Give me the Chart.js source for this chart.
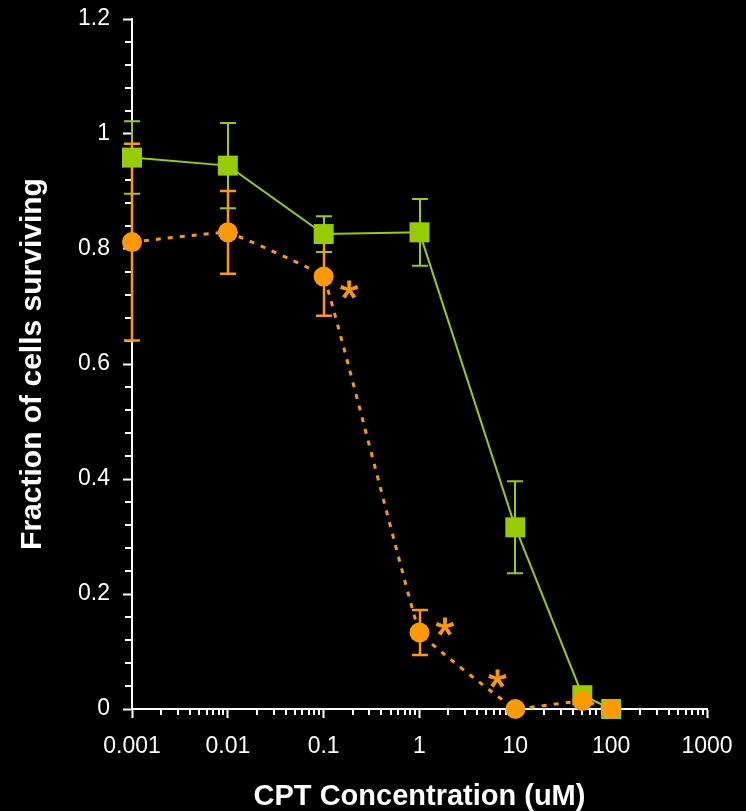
<!DOCTYPE html>
<html>
<head>
<meta charset="utf-8">
<title>CPT survival</title>
<style>
  html, body { margin: 0; padding: 0; background: #000; }
  #wrap { width: 746px; height: 811px; }
</style>
<script src="https://cdn.jsdelivr.net/npm/chart.js@4/dist/chart.umd.min.js"></script>
</head>
<body>
<div id="wrap"><canvas id="chart" width="746" height="811"></canvas></div>
<script>
// CPT concentrations (uM)
const concentrations = [0.001, 0.01, 0.1, 1, 10, 50, 100];

// Fraction of cells surviving, control line (green squares)
const controlSurvival = [0.959, 0.945, 0.826, 0.829, 0.316, 0.024, 0.0];
const controlError    = [0.063, 0.074, 0.031, 0.058, 0.080, 0, 0];

// Fraction of cells surviving, sensitised line (orange circles)
const treatedSurvival = [0.812, 0.829, 0.752, 0.133, 0.0, 0.014, 0.0];
const treatedError    = [0.171, 0.072, 0.068, 0.039, 0, 0, 0];

// Significance markers
const starX = [0.185, 1.85, 6.5];
const starY = [0.729, 0.143, 0.053];

// Axis labels
const xTickLabels = ['0.001', '0.01', '0.1', '1', '10', '100', '1000'];
const yTickLabels = ['0', '0.2', '0.4', '0.6', '0.8', '1', '1.2'];
const xDecades = [-3, -2, -1, 0, 1, 2, 3];
const minorMultipliers = [2, 3, 4, 5, 6, 7, 8, 9];

const GREEN = '#99CC00';
const ORANGE = '#FF9900';
const FONT = "'Liberation Sans', Arial, Helvetica, sans-serif";

const toPoints = (xs, ys) => xs.map((x, i) => ({ x: x, y: ys[i] }));

function isDecade(v) {
  const l = Math.log10(v);
  return Math.abs(l - Math.round(l)) < 1e-9;
}

function drawErrorBars(ctx, xs, ys, xVals, yVals, errs, color, width) {
  ctx.save();
  ctx.strokeStyle = color;
  ctx.lineWidth = width;
  xVals.forEach((xv, i) => {
    const e = errs[i];
    if (!e) return;
    const px = Math.round(xs.getPixelForValue(xv));
    const top = ys.getPixelForValue(yVals[i] + e);
    const bot = ys.getPixelForValue(yVals[i] - e);
    ctx.beginPath();
    ctx.moveTo(px, top); ctx.lineTo(px, bot);
    ctx.moveTo(px - 8, top); ctx.lineTo(px + 8, top);
    ctx.moveTo(px - 8, bot); ctx.lineTo(px + 8, bot);
    ctx.stroke();
  });
  ctx.restore();
}

const decorations = {
  id: 'decorations',
  beforeDraw(chart) {
    const ctx = chart.ctx;
    ctx.save();
    ctx.fillStyle = '#000';
    ctx.fillRect(0, 0, chart.width, chart.height);
    ctx.restore();
  },
  beforeDatasetsDraw(chart) {
    const { ctx, scales: { x, y } } = chart;
    // minor tick marks
    ctx.save();
    ctx.strokeStyle = '#fff';
    ctx.lineWidth = 2;
    ctx.beginPath();
    x.ticks.forEach(t => {
      if (isDecade(t.value)) return;
      const px = Math.round(x.getPixelForValue(t.value));
      ctx.moveTo(px, y.bottom); ctx.lineTo(px, y.bottom + 6);
    });
    y.ticks.forEach((t, i) => {
      if (i % 5 === 0) return;
      const py = Math.round(y.getPixelForValue(t.value));
      ctx.moveTo(x.left - 7, py); ctx.lineTo(x.left, py);
    });
    ctx.stroke();
    ctx.restore();
    // error bars
    drawErrorBars(ctx, x, y, concentrations, controlSurvival, controlError, GREEN, 2);
    drawErrorBars(ctx, x, y, concentrations, treatedSurvival, treatedError, ORANGE, 2.5);
  },
  afterDatasetsDraw(chart) {
    const { ctx, scales: { x, y } } = chart;
    ctx.save();
    ctx.font = '100px ' + FONT;
    let m = ctx.measureText('*');
    const size = 100 * 18 / (m.actualBoundingBoxLeft + m.actualBoundingBoxRight);
    ctx.font = size.toFixed(1) + 'px ' + FONT;
    m = ctx.measureText('*');
    ctx.fillStyle = ORANGE;
    ctx.strokeStyle = ORANGE;
    ctx.lineWidth = 0.8;
    ctx.textBaseline = 'alphabetic';
    ctx.textAlign = 'left';
    starX.forEach((sx, i) => {
      const cx = x.getPixelForValue(sx);
      const cy = y.getPixelForValue(starY[i]);
      const bx = cx - (m.actualBoundingBoxRight - m.actualBoundingBoxLeft) / 2;
      const by = cy - (m.actualBoundingBoxDescent - m.actualBoundingBoxAscent) / 2;
      ctx.fillText('*', bx, by);
      ctx.strokeText('*', bx, by);
    });
    ctx.restore();
  }
};

new Chart(document.getElementById('chart'), {
  type: 'line',
  data: {
    datasets: [
      {
        label: 'Sensitised',
        data: toPoints(concentrations, treatedSurvival),
        borderColor: ORANGE,
        borderWidth: 3,
        borderDash: [5, 7],
        tension: 0.05,
        pointStyle: 'circle',
        pointRadius: 10,
        pointHoverRadius: 10,
        pointBackgroundColor: ORANGE,
        pointBorderColor: ORANGE,
        pointBorderWidth: 0,
        clip: false,
        order: 0
      },
      {
        label: 'Control',
        data: toPoints(concentrations, controlSurvival),
        borderColor: GREEN,
        borderWidth: 2,
        tension: 0,
        pointStyle: 'rect',
        pointRadius: 14.14,
        pointHoverRadius: 14.14,
        pointBackgroundColor: GREEN,
        pointBorderColor: GREEN,
        pointBorderWidth: 0,
        clip: false,
        order: 1
      }
    ]
  },
  options: {
    responsive: false,
    animation: false,
    devicePixelRatio: 1,
    events: [],
    layout: { padding: { top: 19, right: 39, bottom: 0, left: 0 } },
    plugins: { legend: { display: false }, tooltip: { enabled: false } },
    scales: {
      x: {
        type: 'logarithmic',
        min: 0.001,
        max: 1000,
        afterFit(scale) {
          scale.height = 102;
          scale.paddingLeft = 0;
          scale.paddingRight = 0;
        },
        afterBuildTicks(scale) {
          const ticks = [];
          xDecades.forEach((d, i) => {
            const base = Number(xTickLabels[i]);
            ticks.push({ value: base, major: true });
            if (i < xDecades.length - 1) {
              minorMultipliers.forEach(k => ticks.push({ value: Number((k * base).toPrecision(6)), major: false }));
            }
          });
          scale.ticks = ticks;
        },
        grid: {
          display: true,
          drawOnChartArea: false,
          drawTicks: true,
          tickLength: 9,
          tickWidth: 2,
          tickColor: ctx => (ctx.tick && isDecade(ctx.tick.value)) ? '#fff' : 'rgba(0,0,0,0)'
        },
        border: { display: true, color: '#fff', width: 2 },
        ticks: {
          autoSkip: false,
          maxRotation: 0,
          padding: 15,
          color: '#fff',
          font: { family: FONT, size: 23 },
          callback(value) {
            if (!isDecade(value)) return '';
            return xTickLabels[Math.round(Math.log10(value)) + 3];
          }
        },
        title: {
          display: true,
          text: 'CPT Concentration (uM)',
          color: '#fff',
          font: { family: FONT, size: 29, weight: 'bold' },
          padding: { top: 0, bottom: -3 }
        }
      },
      y: {
        type: 'linear',
        min: 0,
        max: 1.2,
        afterFit(scale) {
          scale.width = 132;
          scale.paddingTop = 0;
          scale.paddingBottom = 0;
        },
        grid: {
          display: true,
          drawOnChartArea: false,
          drawTicks: true,
          tickLength: 9,
          tickWidth: 2,
          tickColor: ctx => (ctx.index % 5 === 0) ? '#fff' : 'rgba(0,0,0,0)'
        },
        border: { display: true, color: '#fff', width: 2 },
        ticks: {
          stepSize: 0.04,
          autoSkip: false,
          padding: 13,
          color: '#fff',
          font: { family: FONT, size: 23 },
          callback(value, index) {
            return index % 5 === 0 ? yTickLabels[index / 5] : '';
          }
        },
        title: {
          display: true,
          text: 'Fraction of cells surviving',
          color: '#fff',
          font: { family: FONT, size: 30, weight: 'bold' },
          padding: { top: 15, bottom: 0 }
        }
      }
    }
  },
  plugins: [decorations]
});
</script>
</body>
</html>
